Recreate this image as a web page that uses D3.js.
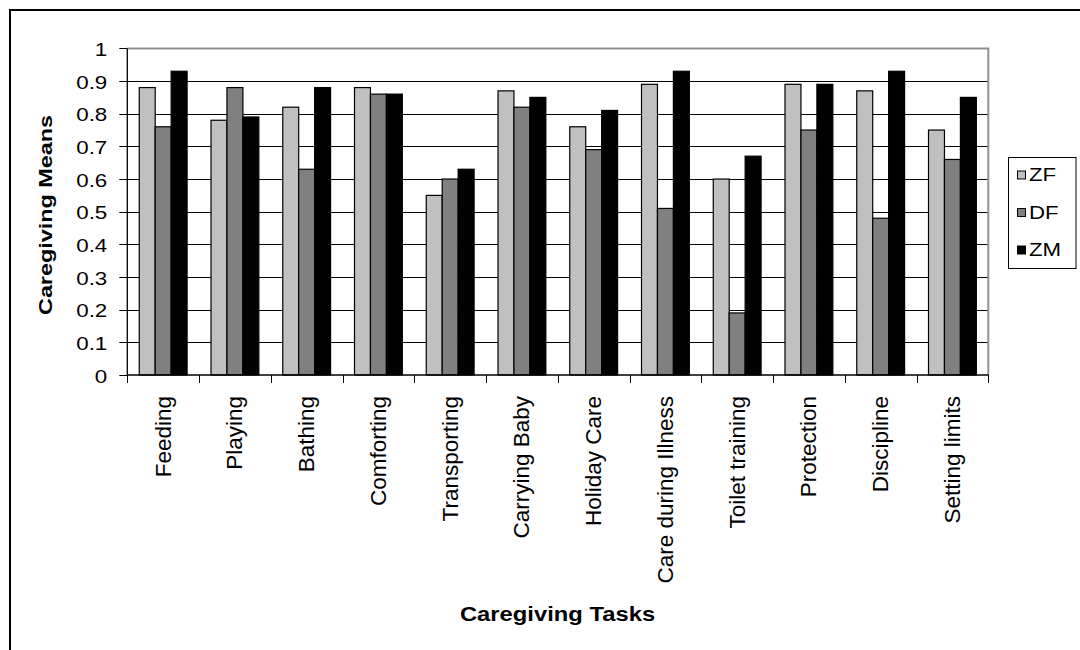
<!DOCTYPE html>
<html>
<head>
<meta charset="utf-8">
<script src="https://cdn.jsdelivr.net/npm/d3@7"></script>
<style>
  body { margin: 0; background: #fff; }
  svg text { font-family: Arial, "Liberation Sans", sans-serif; fill: #000; }
</style>
</head>
<body>
<svg id="chart" width="1080" height="650"></svg>
<script>
// Caregiving task means by parent group
const categories = ["Feeding", "Playing", "Bathing", "Comforting", "Transporting", "Carrying Baby",
  "Holiday Care", "Care during Illness", "Toilet training", "Protection", "Discipline", "Setting limits"];
const seriesNames = ["ZF", "DF", "ZM"];
const zfValues = [0.88, 0.78, 0.82, 0.88, 0.55, 0.87, 0.76, 0.89, 0.60, 0.89, 0.87, 0.75];
const dfValues = [0.76, 0.88, 0.63, 0.86, 0.60, 0.82, 0.69, 0.51, 0.19, 0.75, 0.48, 0.66];
const zmValues = [0.93, 0.79, 0.88, 0.86, 0.63, 0.85, 0.81, 0.93, 0.67, 0.89, 0.93, 0.85];
const yTickValues = [0, 0.1, 0.2, 0.3, 0.4, 0.5, 0.6, 0.7, 0.8, 0.9, 1];
const yTickLabels = ["0", "0.1", "0.2", "0.3", "0.4", "0.5", "0.6", "0.7", "0.8", "0.9", "1"];
const xTitle = "Caregiving Tasks";
const yTitle = "Caregiving Means";

const seriesValues = { ZF: zfValues, DF: dfValues, ZM: zmValues };
const seriesFill = { ZF: "#c0c0c0", DF: "#808080", ZM: "#000000" };

const svg = d3.select("#chart");
const plot = { left: 127.3, right: 988.3, top: 48.4, bottom: 375 };

// outer chart frame (runs past the page edge on the right and bottom)
svg.append("rect")
  .attr("x", 10).attr("y", 10).attr("width", 1100).attr("height", 700)
  .attr("fill", "#fff").attr("stroke", "#000").attr("stroke-width", 2);

const x0 = d3.scaleBand().domain(categories).range([plot.left, plot.right]).padding(0);
const x1 = d3.scaleBand().domain(seriesNames).range([0, x0.bandwidth()])
  .paddingInner(0).paddingOuter(0.75);
const y = d3.scaleLinear().domain([0, 1]).range([plot.bottom, plot.top]);

// horizontal gridlines
svg.append("g").selectAll("line")
  .data(yTickValues.filter(v => v > 0 && v < 1))
  .join("line")
  .attr("x1", plot.left).attr("x2", plot.right)
  .attr("y1", d => Math.round(y(d)) + 0.5).attr("y2", d => Math.round(y(d)) + 0.5)
  .attr("stroke", "#000").attr("stroke-width", 1);

// plot area border (top and right in grey)
svg.append("path")
  .attr("d", `M${plot.left},${y(1)}H${plot.right}V${plot.bottom}`)
  .attr("fill", "none").attr("stroke", "#909090").attr("stroke-width", 2);

// bars
const groups = svg.append("g").selectAll("g")
  .data(categories)
  .join("g")
  .attr("transform", d => `translate(${x0(d)},0)`);

groups.selectAll("rect")
  .data((c, i) => seriesNames.map(s => ({ s, v: seriesValues[s][i] })))
  .join("rect")
  .attr("x", d => x1(d.s))
  .attr("y", d => y(d.v))
  .attr("width", x1.bandwidth())
  .attr("height", d => y(0) - y(d.v))
  .attr("fill", d => seriesFill[d.s])
  .attr("stroke", "#000").attr("stroke-width", 1.2);

// y axis
const yAxisG = svg.append("g").attr("transform", `translate(${plot.left},0)`);
yAxisG.append("line").attr("x1", 0).attr("x2", 0).attr("y1", plot.top).attr("y2", plot.bottom)
  .attr("stroke", "#000").attr("stroke-width", 1.3);
yAxisG.selectAll("line.tick").data(yTickValues).join("line").attr("class", "tick")
  .attr("x1", -8).attr("x2", 0)
  .attr("y1", d => Math.round(y(d)) + 0.5).attr("y2", d => Math.round(y(d)) + 0.5)
  .attr("stroke", "#000");
yAxisG.selectAll("text").data(yTickValues).join("text")
  .attr("transform", d => `translate(-20,${y(d) + 7.6}) scale(1.21,1)`)
  .attr("text-anchor", "end")
  .attr("font-size", 18.5)
  .text((d, i) => yTickLabels[i]);

// x axis
const xAxisG = svg.append("g");
xAxisG.append("line").attr("x1", plot.left).attr("x2", plot.right)
  .attr("y1", plot.bottom).attr("y2", plot.bottom)
  .attr("stroke", "#000").attr("stroke-width", 1.3);
const boundaries = categories.map(c => x0(c)).concat([plot.right]);
xAxisG.selectAll("line.tick").data(boundaries).join("line").attr("class", "tick")
  .attr("x1", d => Math.round(d) + 0.5).attr("x2", d => Math.round(d) + 0.5)
  .attr("y1", plot.bottom).attr("y2", plot.bottom + 8)
  .attr("stroke", "#000");
xAxisG.selectAll("text").data(categories).join("text")
  .attr("transform", d => `translate(${x0(d) + x0.bandwidth() / 2},396) rotate(-90)`)
  .attr("text-anchor", "end")
  .attr("dy", "0.33em")
  .attr("font-size", 22.5)
  .text(d => d);

// axis titles
svg.append("text")
  .attr("transform", `translate(557.5,621) scale(1.22,1)`)
  .attr("text-anchor", "middle")
  .attr("font-size", 19.5).attr("font-weight", "bold")
  .text(xTitle);

svg.append("text")
  .attr("transform", `translate(52,215) rotate(-90)`)
  .attr("text-anchor", "middle")
  .attr("font-size", 17.5).attr("font-weight", "bold")
  .attr("textLength", 200).attr("lengthAdjust", "spacingAndGlyphs")
  .text(yTitle);

// legend
const legend = svg.append("g");
legend.append("rect")
  .attr("x", 1008.5).attr("y", 157.5).attr("width", 67.5).attr("height", 111)
  .attr("fill", "#fff").attr("stroke", "#000").attr("stroke-width", 1);
const rowY = d3.scalePoint().domain(seriesNames).range([175, 250]);
const items = legend.selectAll("g.item").data(seriesNames).join("g").attr("class", "item")
  .attr("transform", d => `translate(0,${rowY(d)})`);
items.append("rect")
  .attr("x", 1017.5).attr("y", -4).attr("width", 8).attr("height", 8)
  .attr("fill", d => seriesFill[d]).attr("stroke", "#000").attr("stroke-width", 1);
items.append("text")
  .attr("transform", "translate(1029,6.3) scale(1.27,1)")
  .attr("font-size", 17.5)
  .text(d => d);
</script>
</body>
</html>
